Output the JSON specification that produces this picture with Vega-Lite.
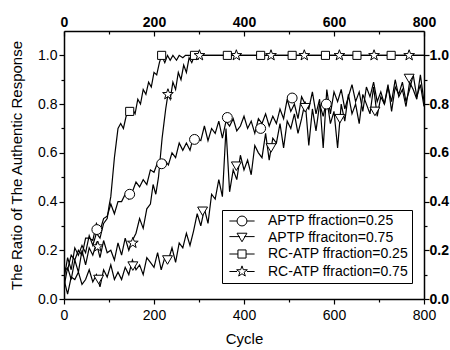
{
  "$schema": "https://vega.github.io/schema/vega-lite/v6.json",
  "width": 360,
  "height": 268,
  "autosize": {"type": "none"},
  "padding": {"left": 64, "top": 31, "right": 26, "bottom": 51},
  "background": "white",
  "config": {
    "view": {"stroke": null},
    "axis": {
      "labelFont": "Liberation Sans",
      "titleFont": "Liberation Sans",
      "labelFontSize": 14,
      "titleFontSize": 15,
      "titleFontWeight": "normal",
      "labelColor": "black",
      "titleColor": "black",
      "domainColor": "black",
      "tickColor": "black",
      "domainWidth": 1.5,
      "tickWidth": 1.2,
      "grid": false
    },
    "legend": {"labelFont": "Liberation Sans"}
  },
  "datasets": {
    "lines": [
      {"s":"a","c":0,"v":0.13},{"s":"a","c":8,"v":0.12},{"s":"a","c":16,"v":0.18},{"s":"a","c":24,"v":0.16},{"s":"a","c":32,"v":0.20},{"s":"a","c":40,"v":0.18},{"s":"a","c":48,"v":0.25},{"s":"a","c":56,"v":0.25},{"s":"a","c":64,"v":0.24},{"s":"a","c":72,"v":0.31},{"s":"a","c":80,"v":0.28},{"s":"a","c":88,"v":0.33},{"s":"a","c":96,"v":0.34},{"s":"a","c":104,"v":0.39},{"s":"a","c":112,"v":0.35},{"s":"a","c":120,"v":0.40},{"s":"a","c":128,"v":0.40},{"s":"a","c":136,"v":0.43},{"s":"a","c":144,"v":0.41},{"s":"a","c":152,"v":0.44},{"s":"a","c":160,"v":0.48},{"s":"a","c":168,"v":0.46},{"s":"a","c":176,"v":0.49},{"s":"a","c":184,"v":0.47},{"s":"a","c":192,"v":0.53},{"s":"a","c":200,"v":0.52},{"s":"a","c":208,"v":0.56},{"s":"a","c":216,"v":0.54},{"s":"a","c":224,"v":0.57},{"s":"a","c":232,"v":0.55},{"s":"a","c":240,"v":0.60},{"s":"a","c":248,"v":0.58},{"s":"a","c":256,"v":0.64},{"s":"a","c":264,"v":0.61},{"s":"a","c":272,"v":0.64},{"s":"a","c":280,"v":0.61},{"s":"a","c":288,"v":0.67},{"s":"a","c":296,"v":0.66},{"s":"a","c":304,"v":0.65},{"s":"a","c":312,"v":0.71},{"s":"a","c":320,"v":0.65},{"s":"a","c":328,"v":0.70},{"s":"a","c":336,"v":0.68},{"s":"a","c":344,"v":0.73},{"s":"a","c":352,"v":0.66},{"s":"a","c":360,"v":0.73},{"s":"a","c":368,"v":0.71},{"s":"a","c":376,"v":0.74},{"s":"a","c":384,"v":0.69},{"s":"a","c":392,"v":0.71},{"s":"a","c":400,"v":0.75},{"s":"a","c":408,"v":0.70},{"s":"a","c":416,"v":0.73},{"s":"a","c":424,"v":0.68},{"s":"a","c":432,"v":0.74},{"s":"a","c":440,"v":0.72},{"s":"a","c":448,"v":0.76},{"s":"a","c":456,"v":0.71},{"s":"a","c":464,"v":0.75},{"s":"a","c":472,"v":0.72},{"s":"a","c":480,"v":0.78},{"s":"a","c":488,"v":0.74},{"s":"a","c":496,"v":0.82},{"s":"a","c":504,"v":0.77},{"s":"a","c":512,"v":0.80},{"s":"a","c":520,"v":0.74},{"s":"a","c":528,"v":0.83},{"s":"a","c":536,"v":0.80},{"s":"a","c":544,"v":0.78},{"s":"a","c":552,"v":0.85},{"s":"a","c":560,"v":0.76},{"s":"a","c":568,"v":0.82},{"s":"a","c":576,"v":0.62},{"s":"a","c":584,"v":0.86},{"s":"a","c":592,"v":0.76},{"s":"a","c":600,"v":0.85},{"s":"a","c":608,"v":0.81},{"s":"a","c":616,"v":0.86},{"s":"a","c":624,"v":0.78},{"s":"a","c":632,"v":0.83},{"s":"a","c":640,"v":0.88},{"s":"a","c":648,"v":0.81},{"s":"a","c":656,"v":0.85},{"s":"a","c":664,"v":0.77},{"s":"a","c":672,"v":0.87},{"s":"a","c":680,"v":0.83},{"s":"a","c":688,"v":0.89},{"s":"a","c":696,"v":0.81},{"s":"a","c":704,"v":0.85},{"s":"a","c":712,"v":0.80},{"s":"a","c":720,"v":0.87},{"s":"a","c":728,"v":0.81},{"s":"a","c":736,"v":0.90},{"s":"a","c":744,"v":0.83},{"s":"a","c":752,"v":0.86},{"s":"a","c":760,"v":0.79},{"s":"a","c":768,"v":0.89},{"s":"a","c":776,"v":0.86},{"s":"a","c":784,"v":0.82},{"s":"a","c":792,"v":0.92},{"s":"a","c":800,"v":0.81},
      {"s":"b","c":0,"v":0.08},{"s":"b","c":8,"v":0.02},{"s":"b","c":16,"v":0.09},{"s":"b","c":24,"v":0.08},{"s":"b","c":32,"v":0.11},{"s":"b","c":40,"v":0.06},{"s":"b","c":48,"v":0.08},{"s":"b","c":56,"v":0.12},{"s":"b","c":64,"v":0.07},{"s":"b","c":72,"v":0.10},{"s":"b","c":80,"v":0.05},{"s":"b","c":88,"v":0.12},{"s":"b","c":96,"v":0.09},{"s":"b","c":104,"v":0.14},{"s":"b","c":112,"v":0.08},{"s":"b","c":120,"v":0.11},{"s":"b","c":128,"v":0.08},{"s":"b","c":136,"v":0.13},{"s":"b","c":144,"v":0.10},{"s":"b","c":152,"v":0.16},{"s":"b","c":160,"v":0.12},{"s":"b","c":168,"v":0.14},{"s":"b","c":176,"v":0.10},{"s":"b","c":184,"v":0.17},{"s":"b","c":192,"v":0.15},{"s":"b","c":200,"v":0.13},{"s":"b","c":208,"v":0.19},{"s":"b","c":216,"v":0.12},{"s":"b","c":224,"v":0.17},{"s":"b","c":232,"v":0.16},{"s":"b","c":240,"v":0.21},{"s":"b","c":248,"v":0.15},{"s":"b","c":256,"v":0.23},{"s":"b","c":264,"v":0.21},{"s":"b","c":272,"v":0.27},{"s":"b","c":280,"v":0.22},{"s":"b","c":288,"v":0.28},{"s":"b","c":296,"v":0.35},{"s":"b","c":304,"v":0.30},{"s":"b","c":312,"v":0.37},{"s":"b","c":320,"v":0.31},{"s":"b","c":328,"v":0.43},{"s":"b","c":336,"v":0.41},{"s":"b","c":344,"v":0.49},{"s":"b","c":352,"v":0.42},{"s":"b","c":360,"v":0.70},{"s":"b","c":368,"v":0.44},{"s":"b","c":376,"v":0.53},{"s":"b","c":384,"v":0.49},{"s":"b","c":392,"v":0.59},{"s":"b","c":400,"v":0.53},{"s":"b","c":408,"v":0.57},{"s":"b","c":416,"v":0.51},{"s":"b","c":424,"v":0.63},{"s":"b","c":432,"v":0.60},{"s":"b","c":440,"v":0.58},{"s":"b","c":448,"v":0.68},{"s":"b","c":456,"v":0.57},{"s":"b","c":464,"v":0.66},{"s":"b","c":472,"v":0.64},{"s":"b","c":480,"v":0.72},{"s":"b","c":488,"v":0.62},{"s":"b","c":496,"v":0.73},{"s":"b","c":504,"v":0.70},{"s":"b","c":512,"v":0.76},{"s":"b","c":520,"v":0.68},{"s":"b","c":528,"v":0.74},{"s":"b","c":536,"v":0.81},{"s":"b","c":544,"v":0.63},{"s":"b","c":552,"v":0.78},{"s":"b","c":560,"v":0.69},{"s":"b","c":568,"v":0.80},{"s":"b","c":576,"v":0.75},{"s":"b","c":584,"v":0.82},{"s":"b","c":592,"v":0.72},{"s":"b","c":600,"v":0.77},{"s":"b","c":608,"v":0.62},{"s":"b","c":616,"v":0.80},{"s":"b","c":624,"v":0.73},{"s":"b","c":632,"v":0.84},{"s":"b","c":640,"v":0.76},{"s":"b","c":648,"v":0.80},{"s":"b","c":656,"v":0.72},{"s":"b","c":664,"v":0.84},{"s":"b","c":672,"v":0.80},{"s":"b","c":680,"v":0.76},{"s":"b","c":688,"v":0.87},{"s":"b","c":696,"v":0.75},{"s":"b","c":704,"v":0.83},{"s":"b","c":712,"v":0.80},{"s":"b","c":720,"v":0.88},{"s":"b","c":728,"v":0.77},{"s":"b","c":736,"v":0.87},{"s":"b","c":744,"v":0.84},{"s":"b","c":752,"v":0.89},{"s":"b","c":760,"v":0.81},{"s":"b","c":768,"v":0.86},{"s":"b","c":776,"v":0.92},{"s":"b","c":784,"v":0.83},{"s":"b","c":792,"v":0.88},{"s":"b","c":800,"v":0.79},
      {"s":"c","c":0,"v":0.08},{"s":"c","c":8,"v":0.17},{"s":"c","c":16,"v":0.12},{"s":"c","c":24,"v":0.21},{"s":"c","c":32,"v":0.18},{"s":"c","c":40,"v":0.22},{"s":"c","c":48,"v":0.19},{"s":"c","c":56,"v":0.26},{"s":"c","c":64,"v":0.22},{"s":"c","c":72,"v":0.27},{"s":"c","c":80,"v":0.25},{"s":"c","c":88,"v":0.31},{"s":"c","c":96,"v":0.33},{"s":"c","c":100,"v":0.38},{"s":"c","c":104,"v":0.42},{"s":"c","c":108,"v":0.50},{"s":"c","c":112,"v":0.58},{"s":"c","c":116,"v":0.64},{"s":"c","c":120,"v":0.70},{"s":"c","c":126,"v":0.72},{"s":"c","c":132,"v":0.70},{"s":"c","c":138,"v":0.75},{"s":"c","c":146,"v":0.77},{"s":"c","c":152,"v":0.78},{"s":"c","c":158,"v":0.76},{"s":"c","c":164,"v":0.82},{"s":"c","c":170,"v":0.80},{"s":"c","c":176,"v":0.86},{"s":"c","c":182,"v":0.84},{"s":"c","c":188,"v":0.89},{"s":"c","c":194,"v":0.87},{"s":"c","c":200,"v":0.93},{"s":"c","c":206,"v":0.92},{"s":"c","c":212,"v":0.97},{"s":"c","c":217,"v":1.0},{"s":"c","c":224,"v":0.97},{"s":"c","c":230,"v":1.0},{"s":"c","c":236,"v":0.98},{"s":"c","c":242,"v":1.0},{"s":"c","c":250,"v":0.98},{"s":"c","c":256,"v":1.0},{"s":"c","c":264,"v":0.99},{"s":"c","c":270,"v":1.0},{"s":"c","c":800,"v":1.0},
      {"s":"d","c":0,"v":0.05},{"s":"d","c":8,"v":0.13},{"s":"d","c":16,"v":0.08},{"s":"d","c":24,"v":0.16},{"s":"d","c":32,"v":0.11},{"s":"d","c":40,"v":0.20},{"s":"d","c":48,"v":0.14},{"s":"d","c":56,"v":0.21},{"s":"d","c":64,"v":0.18},{"s":"d","c":72,"v":0.23},{"s":"d","c":80,"v":0.17},{"s":"d","c":88,"v":0.24},{"s":"d","c":96,"v":0.19},{"s":"d","c":104,"v":0.20},{"s":"d","c":112,"v":0.16},{"s":"d","c":120,"v":0.23},{"s":"d","c":128,"v":0.18},{"s":"d","c":136,"v":0.25},{"s":"d","c":144,"v":0.20},{"s":"d","c":152,"v":0.24},{"s":"d","c":160,"v":0.27},{"s":"d","c":168,"v":0.33},{"s":"d","c":176,"v":0.29},{"s":"d","c":184,"v":0.37},{"s":"d","c":192,"v":0.39},{"s":"d","c":198,"v":0.47},{"s":"d","c":204,"v":0.43},{"s":"d","c":210,"v":0.50},{"s":"d","c":214,"v":0.58},{"s":"d","c":218,"v":0.66},{"s":"d","c":222,"v":0.72},{"s":"d","c":226,"v":0.78},{"s":"d","c":231,"v":0.84},{"s":"d","c":236,"v":0.82},{"s":"d","c":242,"v":0.89},{"s":"d","c":248,"v":0.86},{"s":"d","c":254,"v":0.93},{"s":"d","c":260,"v":0.90},{"s":"d","c":266,"v":0.96},{"s":"d","c":272,"v":0.93},{"s":"d","c":278,"v":0.99},{"s":"d","c":284,"v":0.97},{"s":"d","c":290,"v":1.0},{"s":"d","c":800,"v":1.0}
    ],
    "marks": [
      {"s":"APTP ffraction=0.25","c":73,"v":0.285},{"s":"APTP ffraction=0.25","c":146,"v":0.43},{"s":"APTP ffraction=0.25","c":217,"v":0.555},{"s":"APTP ffraction=0.25","c":290,"v":0.655},{"s":"APTP ffraction=0.25","c":363,"v":0.745},{"s":"APTP ffraction=0.25","c":437,"v":0.70},{"s":"APTP ffraction=0.25","c":507,"v":0.825},{"s":"APTP ffraction=0.25","c":583,"v":0.80},
      {"s":"APTP ffraciton=0.75","c":77,"v":0.08},{"s":"APTP ffraciton=0.75","c":153,"v":0.135},{"s":"APTP ffraciton=0.75","c":230,"v":0.16},{"s":"APTP ffraciton=0.75","c":308,"v":0.36},{"s":"APTP ffraciton=0.75","c":383,"v":0.545},{"s":"APTP ffraciton=0.75","c":460,"v":0.62},{"s":"APTP ffraciton=0.75","c":536,"v":0.785},{"s":"APTP ffraciton=0.75","c":613,"v":0.74},{"s":"APTP ffraciton=0.75","c":691,"v":0.77},{"s":"APTP ffraciton=0.75","c":767,"v":0.905},
      {"s":"RC-ATP ffraction=0.25","c":146,"v":0.77},{"s":"RC-ATP ffraction=0.25","c":217,"v":1.0},{"s":"RC-ATP ffraction=0.25","c":290,"v":1.0},{"s":"RC-ATP ffraction=0.25","c":363,"v":1.0},{"s":"RC-ATP ffraction=0.25","c":437,"v":1.0},{"s":"RC-ATP ffraction=0.25","c":507,"v":1.0},{"s":"RC-ATP ffraction=0.25","c":581,"v":1.0},{"s":"RC-ATP ffraction=0.25","c":651,"v":1.0},{"s":"RC-ATP ffraction=0.25","c":727,"v":1.0},
      {"s":"RC-ATP ffraction=0.75","c":75,"v":0.215},{"s":"RC-ATP ffraction=0.75","c":153,"v":0.23},{"s":"RC-ATP ffraction=0.75","c":231,"v":0.84},{"s":"RC-ATP ffraction=0.75","c":301,"v":1.0},{"s":"RC-ATP ffraction=0.75","c":383,"v":1.0},{"s":"RC-ATP ffraction=0.75","c":460,"v":1.0},{"s":"RC-ATP ffraction=0.75","c":534,"v":1.0},{"s":"RC-ATP ffraction=0.75","c":612,"v":1.0},{"s":"RC-ATP ffraction=0.75","c":689,"v":1.0},{"s":"RC-ATP ffraction=0.75","c":767,"v":1.0}
    ]
  },
  "resolve": {
    "axis": {"x": "independent", "y": "independent"},
    "scale": {"shape": "independent"},
    "legend": {"shape": "independent"}
  },
  "layer": [
    {
      "data": {"name": "lines"},
      "mark": {"type": "line", "stroke": "black", "strokeWidth": 1.2, "clip": true},
      "encoding": {
        "x": {"field": "c", "type": "quantitative", "scale": {"domain": [0, 800], "nice": false},
          "axis": {"orient": "bottom", "title": "Cycle", "values": [0,100,200,300,400,500,600,700,800],
            "labelExpr": "datum.value % 200 === 0 ? datum.label : ''",
            "tickSize": {"condition": {"test": "datum.value % 200 === 0", "value": 5}, "value": 3},
            "labelPadding": 4, "titlePadding": 9, "labelFlush": false}},
        "y": {"field": "v", "type": "quantitative", "scale": {"domain": [0, 1.1], "nice": false, "zero": false},
          "axis": {"orient": "left", "title": "The Ratio of The Authentic Response", "values": [0,0.1,0.2,0.3,0.4,0.5,0.6,0.7,0.8,0.9,1.0],
            "labelExpr": "round(datum.value*10) % 2 === 0 ? format(datum.value, '.1f') : ''",
            "tickSize": {"condition": {"test": "round(datum.value*10) % 2 === 0", "value": 5}, "value": 3},
            "labelPadding": 2, "titlePadding": 13, "labelFlush": false}},
        "detail": {"field": "s"}
      }
    },
    {
      "data": {"name": "marks"},
      "mark": {"type": "point", "filled": true, "fill": "white", "stroke": "black", "strokeWidth": 1, "opacity": 1, "size": 81},
      "encoding": {
        "x": {"field": "c", "type": "quantitative",
          "axis": {"orient": "top", "title": null, "values": [0,100,200,300,400,500,600,700,800],
            "labelExpr": "datum.value % 200 === 0 ? datum.label : ''", "labelFontWeight": "bold",
            "tickSize": {"condition": {"test": "datum.value % 200 === 0", "value": -5}, "value": -3},
            "labelPadding": 7, "labelFlush": false}},
        "y": {"field": "v", "type": "quantitative",
          "axis": {"orient": "right", "title": null, "values": [0,0.1,0.2,0.3,0.4,0.5,0.6,0.7,0.8,0.9,1.0],
            "labelExpr": "round(datum.value*10) % 2 === 0 ? format(datum.value, '.1f') : ''", "labelFontWeight": "bold",
            "tickSize": {"condition": {"test": "round(datum.value*10) % 2 === 0", "value": 5}, "value": 3},
            "labelPadding": 0, "labelFlush": false}},
        "shape": {"field": "s", "type": "nominal", "legend": null,
          "scale": {"domain": ["APTP ffraction=0.25", "APTP ffraciton=0.75", "RC-ATP ffraction=0.25", "RC-ATP ffraction=0.75"],
            "range": ["M-1.1,0A1.1,1.1,0,1,1,1.1,0A1.1,1.1,0,1,1,-1.1,0Z",
                      "M-1.1,-0.95L1.1,-0.95L0,0.95Z",
                      "M-0.9,-0.9L0.9,-0.9L0.9,0.9L-0.9,0.9Z",
                      "M0,-1.25L0.2939,-0.4045L1.1888,-0.3863L0.4755,0.1545L0.7347,1.0113L0,0.5L-0.7347,1.0113L-0.4755,0.1545L-1.1888,-0.3863L-0.2939,-0.4045Z"]}}
      }
    },
    {
      "data": {"name": "marks"},
      "mark": {"type": "point", "filled": false, "stroke": "black", "strokeWidth": 1, "opacity": 0, "size": 81},
      "encoding": {
        "x": {"field": "c", "type": "quantitative", "axis": null},
        "y": {"field": "v", "type": "quantitative", "axis": null},
        "shape": {"field": "s", "type": "nominal",
          "scale": {"domain": ["APTP ffraction=0.25", "APTP ffraciton=0.75", "RC-ATP ffraction=0.25", "RC-ATP ffraction=0.75"],
            "range": ["M-2.8,0L-1.1,0M1.1,0L2.8,0M-1.1,0A1.1,1.1,0,1,1,1.1,0A1.1,1.1,0,1,1,-1.1,0Z",
                      "M-2.8,-0.2L-0.5,-0.2M0.5,-0.2L2.8,-0.2M-1.1,-0.95L1.1,-0.95L0,0.95Z",
                      "M-2.8,0L-0.9,0M0.9,0L2.8,0M-0.9,-0.9L0.9,-0.9L0.9,0.9L-0.9,0.9Z",
                      "M-2.8,0L-1.1,0M1.1,0L2.8,0M0,-1.25L0.2939,-0.4045L1.1888,-0.3863L0.4755,0.1545L0.7347,1.0113L0,0.5L-0.7347,1.0113L-0.4755,0.1545L-1.1888,-0.3863L-0.2939,-0.4045Z"]},
          "legend": {"title": null, "orient": "none", "legendX": 158, "legendY": 179,
            "strokeColor": "black", "fillColor": "white", "padding": 4,
            "labelFontSize": 14, "labelColor": "black", "labelLimit": 300,
            "symbolSize": 81, "symbolStrokeWidth": 1, "symbolStrokeColor": "black", "symbolOpacity": 1,
            "symbolOffset": 9, "labelOffset": 19, "rowPadding": 2.5,
            "encode": {"symbols": {"update": {"fill": {"value": "white"}, "stroke": {"value": "black"}, "strokeWidth": {"value": 1}, "opacity": {"value": 1}}}}}}
      }
    }
  ]
}
